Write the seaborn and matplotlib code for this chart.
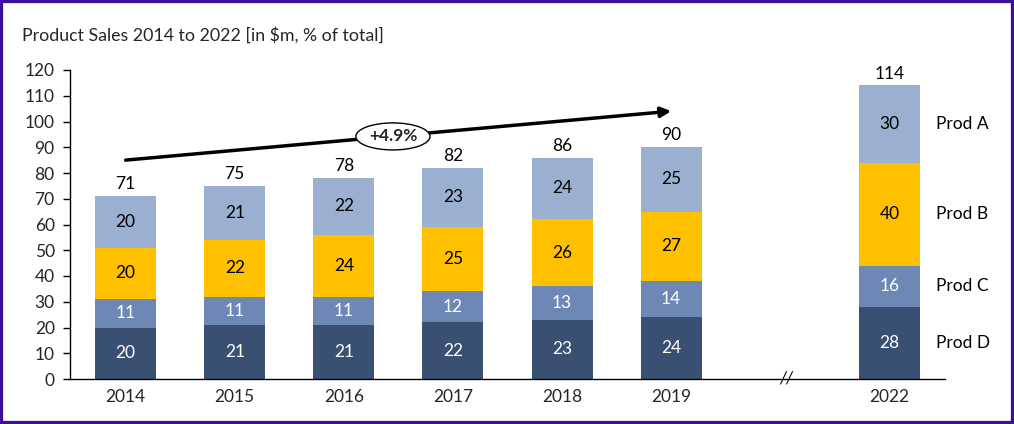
import matplotlib
matplotlib.use("Agg")

import matplotlib.pyplot as plt
import numpy as np
import pandas as pd
import seaborn as sns
from matplotlib.patches import Ellipse, Rectangle

# Data
years = ["2014", "2015", "2016", "2017", "2018", "2019", "2022"]
products = ["Prod D", "Prod C", "Prod B", "Prod A"]
prod_d = [20, 21, 21, 22, 23, 24, 28]
prod_c = [11, 11, 11, 12, 13, 14, 16]
prod_b = [20, 22, 24, 25, 26, 27, 40]
prod_a = [20, 21, 22, 23, 24, 25, 30]
cagr_label = "+4.9%"

colours = {"Prod D": "#3A5073", "Prod C": "#6E88B5",
           "Prod B": "#FFC000", "Prod A": "#9BB0D0"}
text_colours = {"Prod D": "white", "Prod C": "white",
                "Prod B": "black", "Prod A": "black"}

sns.set_theme(style="white")
plt.rcParams["font.family"] = ["Lato", "DejaVu Sans"]

# x positions with a gap before the last year
xpos = [0, 1, 2, 3, 4, 5, 7]
series = {"Prod D": prod_d, "Prod C": prod_c, "Prod B": prod_b, "Prod A": prod_a}
df = pd.DataFrame(series)
df["x"] = xpos
cum = df[products].cumsum(axis=1)
bottoms = cum - df[products]
totals = cum["Prod A"]

fig = plt.figure(figsize=(10.14, 4.24), dpi=100)
ax = fig.add_axes([70 / 1014, 1 - 379 / 424, 875 / 1014, 309 / 424])

# draw cumulative bars from the top down so each overlays the previous
for p in reversed(products):
    sns.barplot(x=df["x"], y=cum[p], native_scale=True, width=0.56,
                color=colours[p], saturation=1, edgecolor="none", ax=ax)

fs = 12.5
for i, x in enumerate(xpos):
    for p in products:
        ax.text(x, bottoms.loc[i, p] + df.loc[i, p] / 2, str(df.loc[i, p]),
                ha="center", va="center", fontsize=fs, color=text_colours[p])
    ax.text(x, totals[i] + 1.5, str(totals[i]), ha="center", va="bottom",
            fontsize=fs, color="black")

# product labels to the right of the last bar
last = len(xpos) - 1
for p in products:
    ax.text(xpos[last] + 0.43, bottoms.loc[last, p] + df.loc[last, p] / 2, p,
            ha="left", va="center", fontsize=fs, color="black", clip_on=False)

# growth arrow with CAGR bubble
ax.annotate("", xy=(5, 104), xytext=(0, 85),
            arrowprops=dict(arrowstyle="-|>", color="black", lw=2.5,
                            mutation_scale=15, shrinkA=0, shrinkB=0))
ex, ey = 2.45, 94.2
ax.add_patch(Ellipse((ex, ey), width=0.68, height=10.5, facecolor="white",
                     edgecolor="black", lw=1, zorder=5))
ax.text(ex, ey, cagr_label, ha="center", va="center", fontsize=fs,
        fontweight="bold", zorder=6)

# axis break mark
ax.text(6.05, 0, "//", ha="center", va="center", fontsize=12,
        color="black", clip_on=False, style="italic")

ax.set_xlim(-0.51, 7.51)
ax.set_ylim(0, 120)
ax.set_yticks(np.arange(0, 121, 10))
ax.set_xticks(xpos)
ax.set_xticklabels(years)
ax.set_xlabel("")
ax.set_ylabel("")
ax.tick_params(axis="y", length=5, width=1, color="black", direction="out",
               labelsize=fs, pad=6, left=True)
ax.tick_params(axis="x", length=0, labelsize=fs, pad=7)
for s in ["top", "right"]:
    ax.spines[s].set_visible(False)
for s in ["left", "bottom"]:
    ax.spines[s].set_color("black")
    ax.spines[s].set_linewidth(1)

fig.text(22 / 1014, 1 - 35 / 424, "Product Sales 2014 to 2022 [in $m, % of total]",
         ha="left", va="center", fontsize=12.8)

fig.patches.append(Rectangle((0, 0), 1, 1, transform=fig.transFigure,
                             fill=False, edgecolor="#3D0F99", lw=4.5))

fig.savefig("out.png", dpi=100)
